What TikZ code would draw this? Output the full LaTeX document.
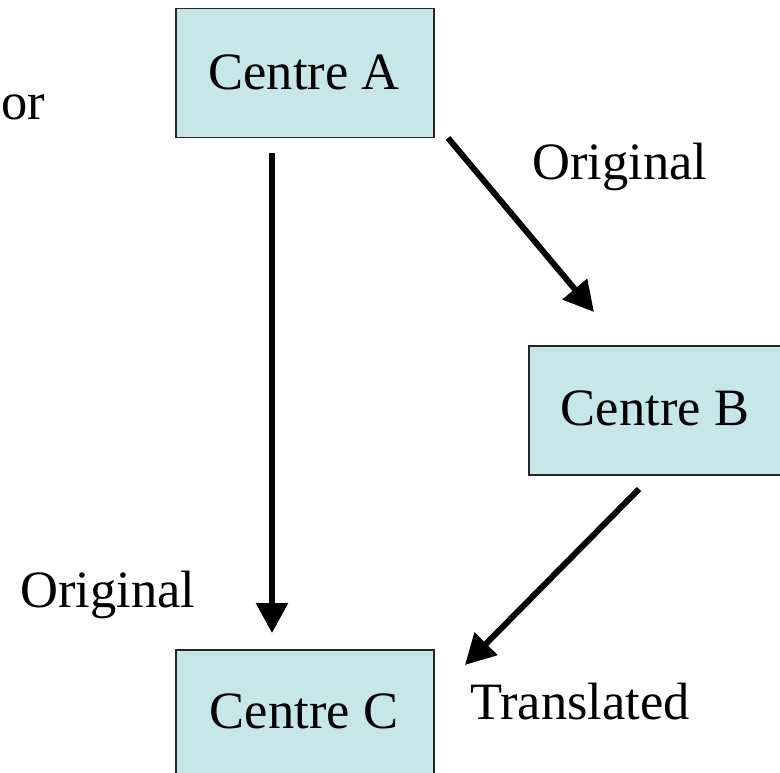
\documentclass[tikz,border=0pt]{standalone}
\usepackage{fontspec}
\setmainfont{Liberation Serif}
\usetikzlibrary{arrows.meta}
\definecolor{boxfill}{HTML}{C6E6EA}
\begin{document}
\begin{tikzpicture}[x=1pt,y=-1pt,
  centrebox/.style={draw=black!85,line width=1.5pt,fill=boxfill,minimum width=258pt,minimum height=129pt,inner sep=0pt,anchor=north west},
  lbl/.style={font=\fontsize{52.5}{60}\selectfont,inner sep=0pt},
  arr/.style={line width=6pt,-{Triangle[length=30pt,width=31pt]}}]
\useasboundingbox (0,0) rectangle (780,773);
\clip (0,0) rectangle (780,773);
\fill[white] (0,0) rectangle (780,773);
\node[centrebox] (A) at (175,8) {};
\node[centrebox] (B) at (528,345) {};
\node[centrebox] (C) at (175,649) {};
\node[lbl,anchor=base] (tA) at (304,90) {Centre A};
\node[lbl,anchor=base] (tB) at (655,425) {Centre B};
\node[lbl,anchor=base] (tC) at (304,728) {Centre C};
\node[lbl,anchor=base west] (or) at (1,120) {or};
\node[lbl,anchor=base] (o1) at (620,180) {Original};
\node[lbl,anchor=base] (o2) at (108,607) {Original};
\node[lbl,anchor=base] (tr) at (580,719) {Translated};
\coordinate (a1) at (448,138);
\coordinate (b1) at (594,312);
\coordinate (a2) at (272,153);
\coordinate (c2) at (272,633);
\coordinate (b3) at (639,489);
\coordinate (c3) at (465,665);
\draw[arr] (a1) -- (b1);
\draw[arr] (a2) -- (c2);
\draw[arr] (b3) -- (c3);
\end{tikzpicture}
\end{document}
